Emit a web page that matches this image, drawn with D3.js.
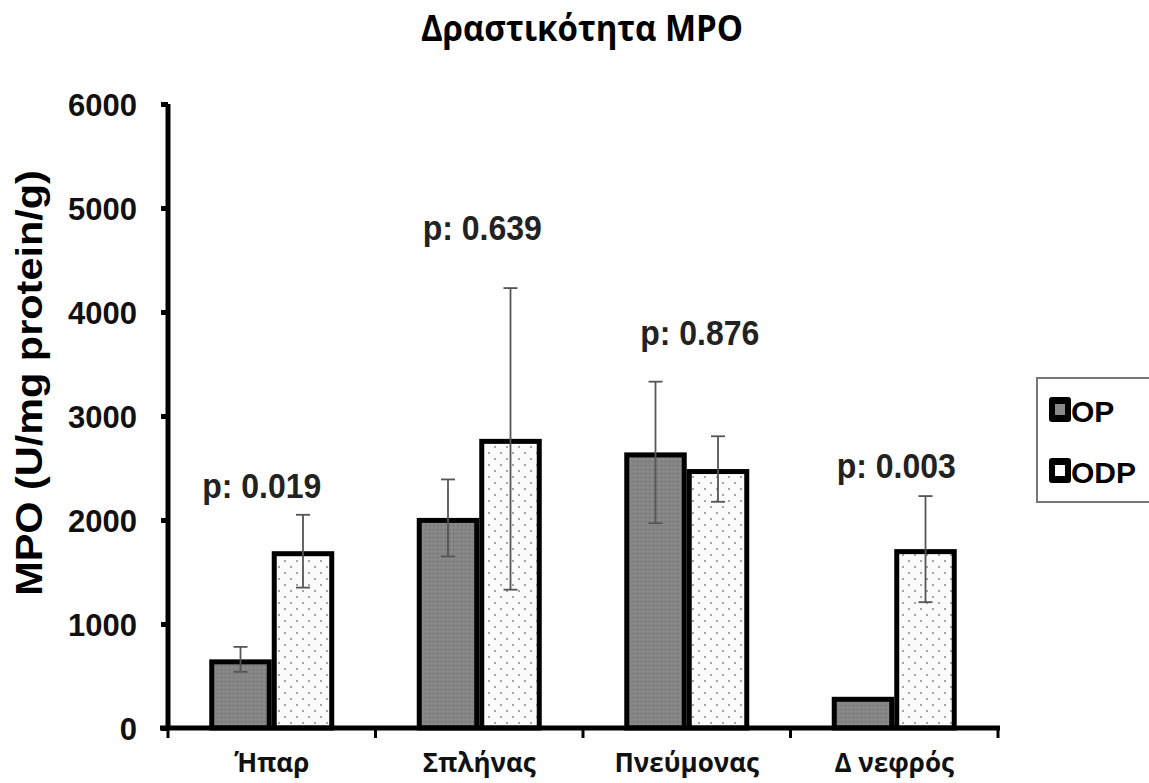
<!DOCTYPE html>
<html><head><meta charset="utf-8">
<script src="https://cdn.jsdelivr.net/npm/d3@7"></script>
<style>body{margin:0;background:#fff}</style>
</head><body>
<svg id="c" width="1149" height="783"></svg>
<script>
const categories = ["Ήπαρ", "Σπλήνας", "Πνεύμονας", "Δ νεφρός"];
const series = ["OP", "ODP"];
const opMean = [660, 2020, 2650, 300];
const opSD = [120, 370, 680, 0];
const odpMean = [1700, 2780, 2490, 1720];
const odpSD = [350, 1450, 315, 510];
const pLabels = ["p: 0.019", "p: 0.639", "p: 0.876", "p: 0.003"];
const pValueY = [2210, 4690, 3680, 2400];
const yTicks = [0, 1000, 2000, 3000, 4000, 5000, 6000];

const svg = d3.select("#c");
const defs = svg.append("defs");
const p1 = defs.append("pattern").attr("id","pOP").attr("patternUnits","userSpaceOnUse").attr("width",4).attr("height",4);
p1.append("rect").attr("width",4).attr("height",4).attr("fill","#878787");
p1.append("rect").attr("x",1).attr("y",1).attr("width",1.2).attr("height",1.2).attr("fill","#6a6a6a");
const p2 = defs.append("pattern").attr("id","pODP").attr("patternUnits","userSpaceOnUse").attr("width",12).attr("height",12);
p2.append("rect").attr("width",12).attr("height",12).attr("fill","#fbfbfb");
p2.append("circle").attr("cx",3).attr("cy",3).attr("r",1).attr("fill","#8a8a8a");
p2.append("circle").attr("cx",9).attr("cy",9).attr("r",1).attr("fill","#8a8a8a");

const x0 = d3.scaleBand().domain(categories).range([168, 998]).paddingInner(0).paddingOuter(0);
const x1 = d3.scaleBand().domain(series).range([0, x0.bandwidth()]).paddingInner(0).paddingOuter(0.66);
const y = d3.scaleLinear().domain([0, 6000]).range([728, 104]);

// title
svg.append("text").attr("transform","translate(582,41) scale(1,1.08)").attr("text-anchor","middle")
  .attr("font-family","Open Sans, sans-serif").attr("font-weight","bold").attr("font-size",33)
  .text("Δραστικότητα MPO");

// y label
svg.append("text").attr("transform","translate(42,383) rotate(-90) scale(1.12,1)").attr("text-anchor","middle")
  .attr("font-family","Liberation Sans, Arial, sans-serif").attr("font-weight","bold").attr("font-size",37)
  .text("MPO (U/mg protein/g)");

const data = categories.map((c,i)=>[
  {cat:c, s:"OP", v:opMean[i], sd:opSD[i]},
  {cat:c, s:"ODP", v:odpMean[i], sd:odpSD[i]}
]).flat();

// bars
svg.append("g").selectAll("rect").data(data).join("rect")
  .attr("x", d=>x0(d.cat)+x1(d.s)+2.5)
  .attr("y", d=>y(d.v)+2.5)
  .attr("width", x1.bandwidth()-5)
  .attr("height", d=>y(0)-y(d.v)-2.5)
  .attr("fill", d=>d.s==="OP"?"url(#pOP)":"url(#pODP)")
  .attr("stroke","#000").attr("stroke-width",5);

// error bars
const eg = svg.append("g").attr("stroke","#555").attr("stroke-width",1.8);
data.filter(d=>d.sd>0).forEach(d=>{
  const cx = x0(d.cat)+x1(d.s)+x1.bandwidth()/2;
  eg.append("line").attr("x1",cx).attr("x2",cx).attr("y1",y(d.v+d.sd)).attr("y2",y(d.v-d.sd));
  eg.append("line").attr("x1",cx-7).attr("x2",cx+7).attr("y1",y(d.v+d.sd)).attr("y2",y(d.v+d.sd));
  eg.append("line").attr("x1",cx-7).attr("x2",cx+7).attr("y1",y(d.v-d.sd)).attr("y2",y(d.v-d.sd));
});

// axes
const yAxis = svg.append("g").attr("transform","translate(168,0)")
  .call(d3.axisLeft(y).tickValues(yTicks).tickSize(7).tickPadding(24).tickFormat(d3.format("d")));
yAxis.select(".domain").attr("stroke","#000").attr("stroke-width",5).attr("d","M0,104V730");
yAxis.selectAll(".tick line").attr("stroke","#000").attr("stroke-width",5);
yAxis.selectAll(".tick text").attr("font-family","Liberation Sans, Arial, sans-serif")
  .attr("font-weight","bold").attr("font-size",31).attr("fill","#111").attr("dy","0.36em");

const xAxis = svg.append("g").attr("transform","translate(0,728)")
  .call(d3.axisBottom(x0).tickSize(0).tickPadding(26));
xAxis.select(".domain").attr("stroke","#000").attr("stroke-width",5).attr("d","M160,0H1000");
xAxis.selectAll(".tick text").attr("font-family","Open Sans, sans-serif")
  .attr("font-weight","bold").attr("font-size",26).attr("fill","#111");
// boundary ticks
const bounds = categories.map(c=>x0(c)).concat([x0(categories[3])+x0.bandwidth()]);
xAxis.selectAll(".bt").data(bounds).join("line").attr("class","bt")
  .attr("x1",d=>d).attr("x2",d=>d).attr("y1",0).attr("y2",10).attr("stroke","#000").attr("stroke-width",3);

// p labels
const pOffset = [-10, 3, 13, 2];
svg.append("g").selectAll("text").data(categories).join("text")
  .attr("transform", (c,i)=>`translate(${x0(c)+x0.bandwidth()/2 + pOffset[i]},${y(pValueY[i])}) scale(1,1.08)`)
  .attr("text-anchor","middle")
  .attr("font-family","Liberation Sans, Arial, sans-serif").attr("font-weight","bold").attr("font-size",32)
  .attr("fill","#222")
  .text((c,i)=>pLabels[i]);

// legend
const lg = svg.append("g");
lg.append("rect").attr("x",1037).attr("y",378).attr("width",130).attr("height",124)
  .attr("fill","#fff").attr("stroke","#777").attr("stroke-width",2);
series.forEach((s,i)=>{
  const yy = 397 + i*61;
  lg.append("rect").attr("x",1049).attr("y",yy).attr("width",22).attr("height",25).attr("fill","#000").attr("rx",3);
  lg.append("rect").attr("x",1055).attr("y",yy+7).attr("width",10).attr("height",11)
    .attr("fill", i===0?"#888":"#fff");
  lg.append("text").attr("x",1071).attr("y",yy+25).attr("font-family","Liberation Sans, Arial, sans-serif")
    .attr("font-weight","bold").attr("font-size",30).text(s);
});
</script>
</body></html>
